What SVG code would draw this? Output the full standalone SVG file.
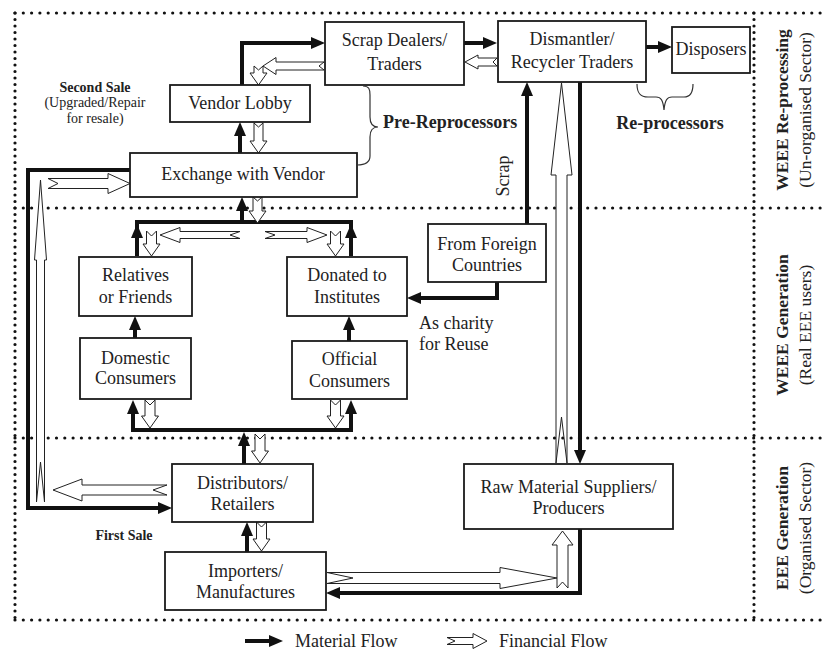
<svg xmlns="http://www.w3.org/2000/svg" width="827" height="650" viewBox="0 0 827 650">
  <defs>
    <marker id="ah" markerUnits="userSpaceOnUse" markerWidth="14" markerHeight="12" refX="2" refY="6" orient="auto">
      <path d="M0,0 L14,6 L0,12 z" fill="#111"/>
    </marker>
    <style>
      .box { fill: #fff; stroke: #1a1a1a; stroke-width: 1.8; }
      .t { font-family: "Liberation Serif", "Times New Roman", serif; font-size: 18px; fill: #222; text-anchor: middle; }
      .b { font-weight: bold; }
      .s { font-size: 14px; }
      .side { font-size: 17.5px; }
      .mat { fill: none; stroke: #111; stroke-width: 4; stroke-linejoin: miter; }
      .arr { marker-end: url(#ah); }
      .fin { fill: #fff; stroke: #222; stroke-width: 1; stroke-linejoin: miter; }
      .brace { fill: none; stroke: #333; stroke-width: 1.2; }
      .dotH { fill: none; stroke: #111; stroke-width: 3.2; stroke-linecap: round; stroke-dasharray: 0 8.3; }
      .dotV { fill: none; stroke: #111; stroke-width: 3.2; stroke-linecap: round; stroke-dasharray: 0 6.5; }
    </style>
  </defs>

  <rect width="827" height="650" fill="#fff"/>

  <!-- sector frames -->
  <g id="frames">
    <path class="dotH" d="M15,13 H827"/>
    <path class="dotH" d="M15,208 H827"/>
    <path class="dotH" d="M15,438 H827"/>
    <path class="dotH" d="M15,620 H827"/>
    <path class="dotV" d="M15,13 V620"/>
    <path class="dotV" d="M754,13 V620"/>
  </g>

  <!-- sector titles -->
  <g id="sector-labels">
    <text class="t b side" transform="translate(788,110) rotate(-90)">WEEE Re-processing</text>
    <text class="t side" transform="translate(811,110) rotate(-90)">(Un-organised Sector)</text>
    <text class="t b side" transform="translate(788,325) rotate(-90)">WEEE Generation</text>
    <text class="t side" transform="translate(811,325) rotate(-90)">(Real EEE users)</text>
    <text class="t b side" transform="translate(788,528) rotate(-90)">EEE Generation</text>
    <text class="t side" transform="translate(811,528) rotate(-90)">(Organised Sector)</text>
  </g>

  <!-- flows -->
  <g id="connectors">
    <!-- material flow -->
    <path class="mat arr" d="M242,85 V43 H313"/>
    <path class="mat arr" d="M464,43 H485"/>
    <path class="mat arr" d="M646,47 H660"/>
    <path class="mat arr" d="M240,153 V134"/>
    <path class="mat arr" d="M130,170 H28 V508 H160"/>
    <path class="mat" d="M137,236 V222 H351 V236"/>
    <path class="mat arr" d="M137,256 V236"/>
    <path class="mat arr" d="M351,256 V236"/>
    <path class="mat arr" d="M242,222 V209"/>
    <path class="mat arr" d="M135,338 V328"/>
    <path class="mat arr" d="M349,341 V328"/>
    <path class="mat arr" d="M244,430 H133 V412"/>
    <path class="mat arr" d="M244,430 H351 V412"/>
    <path class="mat arr" d="M244,464 V444"/>
    <path class="mat arr" d="M247,552 V534"/>
    <path class="mat arr" d="M527,224 V94"/>
    <path class="mat arr" d="M497,282 V298 H419"/>
    <path class="mat arr" d="M580,82 V452"/>
    <path class="mat arr" d="M580,529 V593 H338"/>

    <!-- financial flow -->
    <polygon class="fin" points="254,66 258.5,70 263,66 263,73 267,73 258.5,85 250,73 254,73"/>
    <polygon class="fin" points="263,66 276,57.5 276,62 324,62 319,66 324,70 276,70 276,74.5"/>
    <polygon class="fin" points="465,62 478,55 478,58 497,58 493,62 497,66 478,66 478,69"/>
    <polygon class="fin" points="254,123 258.5,127 263,123 263,141 267,141 258.5,153 250,141 254,141"/>
    <polygon class="fin" points="253,197 257.5,201 262,197 262,211 266,211 257.5,223 249,211 253,211"/>
    <polygon class="fin" points="160,235 180,227.5 180,231.5 240,231.5 230,235 240,238.5 180,238.5 180,242.5"/>
    <polygon class="fin" points="327,235 307,227.5 307,231.5 265,231.5 275,235 265,238.5 307,238.5 307,242.5"/>
    <polygon class="fin" points="146.5,231 151.5,236 156.5,231 156.5,244 160,244 151.5,256 143,244 146.5,244"/>
    <polygon class="fin" points="330.5,231 335.5,236 340.5,231 340.5,244 344,244 335.5,256 327,244 330.5,244"/>
    <polygon class="fin" points="145,400 150,405 155,400 155,416 158.5,416 150,428 141.5,416 145,416"/>
    <polygon class="fin" points="330.5,400 335.5,405 340.5,400 340.5,416 344,416 335.5,428 327,416 330.5,416"/>
    <polygon class="fin" points="255,434 260,439 265,434 265,451 268.5,451 260,463 251.5,451 255,451"/>
    <polygon class="fin" points="256.5,522 261.5,527 266.5,522 266.5,539 270,539 261.5,551 253,539 256.5,539"/>
    <polygon class="fin" points="53,490 82,479 82,485 167,485 153,490 167,495 82,495 82,501"/>
    <polygon class="fin" points="40.5,180 46.5,260 44.5,260 44.5,502 40.5,462 36.5,502 36.5,260 34.5,260"/>
    <polygon class="fin" points="130,183.5 108,173.5 108,178.5 48,178.5 58,183.5 48,188.5 108,188.5 108,193.5"/>
    <polygon class="fin" points="557,578 500,567.5 500,572.5 327,572.5 353,578 327,583.5 500,583.5 500,588.5"/>
    <polygon class="fin" points="562.5,531 573,545 568,545 568,588 562.5,582 557,588 557,545 552,545"/>
    <polygon class="fin" points="561.5,83 572,175 567,175 567,463 561.5,417 556,463 556,175 551,175"/>
  </g>

  <!-- nodes -->
  <g id="scrap-dealers">
    <rect class="box" x="325" y="22" width="139" height="63"/>
    <text class="t" x="394.5" y="46">Scrap Dealers/</text>
    <text class="t" x="394.5" y="70">Traders</text>
  </g>
  <g id="dismantler">
    <rect class="box" x="498" y="21" width="148" height="61"/>
    <text class="t" x="572" y="45">Dismantler/</text>
    <text class="t" x="572" y="68">Recycler Traders</text>
  </g>
  <g id="disposers">
    <rect class="box" x="672" y="27" width="78" height="46"/>
    <text class="t" x="711" y="55">Disposers</text>
  </g>
  <g id="vendor-lobby">
    <rect class="box" x="170" y="85" width="140" height="37"/>
    <text class="t" x="240" y="109">Vendor Lobby</text>
  </g>
  <g id="exchange">
    <rect class="box" x="130" y="153" width="227" height="44"/>
    <text class="t" x="243" y="180">Exchange with Vendor</text>
  </g>
  <g id="relatives">
    <rect class="box" x="79" y="257" width="113" height="59"/>
    <text class="t" x="135.5" y="281">Relatives</text>
    <text class="t" x="135.5" y="303">or Friends</text>
  </g>
  <g id="donated">
    <rect class="box" x="287" y="257" width="120" height="59"/>
    <text class="t" x="347" y="281">Donated to</text>
    <text class="t" x="347" y="303">Institutes</text>
  </g>
  <g id="foreign">
    <rect class="box" x="428" y="224" width="118" height="58"/>
    <text class="t" x="487" y="250">From Foreign</text>
    <text class="t" x="487" y="271">Countries</text>
  </g>
  <g id="domestic">
    <rect class="box" x="80" y="338" width="111" height="61"/>
    <text class="t" x="135.5" y="364">Domestic</text>
    <text class="t" x="135.5" y="384">Consumers</text>
  </g>
  <g id="official">
    <rect class="box" x="292" y="341" width="115" height="58"/>
    <text class="t" x="349.5" y="365">Official</text>
    <text class="t" x="349.5" y="387">Consumers</text>
  </g>
  <g id="distributors">
    <rect class="box" x="172" y="464" width="141" height="58"/>
    <text class="t" x="242.5" y="489">Distributors/</text>
    <text class="t" x="242.5" y="510">Retailers</text>
  </g>
  <g id="importers">
    <rect class="box" x="165" y="552" width="161" height="58"/>
    <text class="t" x="245.5" y="577">Importers/</text>
    <text class="t" x="245.5" y="598">Manufactures</text>
  </g>
  <g id="raw-material">
    <rect class="box" x="464" y="464" width="209" height="65"/>
    <text class="t" x="568.5" y="493">Raw Material Suppliers/</text>
    <text class="t" x="568.5" y="514">Producers</text>
  </g>

  <!-- group labels and braces -->
  <g id="annotations">
    <path class="brace" d="M363,86 C369,86 370,89 370,95 L370,117 C370,124 373,127 378,127 C373,127 370,130 370,137 L370,156 C370,162 366,165 357,165"/>
    <text class="t b" x="383" y="128" style="text-anchor:start">Pre-Reprocessors</text>
    <path class="brace" d="M637,84 C637,93 640,97 648,97 L656,97 C661,97 663,100 664,110 C665,100 667,97 672,97 L684,97 C690,97 693,93 693,84"/>
    <text class="t b" x="670" y="129">Re-processors</text>
    <text class="t b s" x="95" y="92">Second Sale</text>
    <text class="t s" x="95" y="107">(Upgraded/Repair</text>
    <text class="t s" x="95" y="122.5">for resale)</text>
    <text class="t b s" x="124" y="540">First Sale</text>
    <text class="t" transform="translate(509,176) rotate(-90)">Scrap</text>
    <text class="t" x="419" y="329" style="text-anchor:start">As charity</text>
    <text class="t" x="419" y="350" style="text-anchor:start">for Reuse</text>
  </g>

  <!-- legend -->
  <g id="legend">
    <path class="mat arr" d="M245,641 H271"/>
    <text class="t" x="295" y="647" style="text-anchor:start">Material Flow</text>
    <polygon class="fin" points="487,641 473,633.5 473,637.5 447,637.5 455,641 447,644.5 473,644.5 473,648.5"/>
    <text class="t" x="499" y="647" style="text-anchor:start">Financial Flow</text>
  </g>
</svg>
